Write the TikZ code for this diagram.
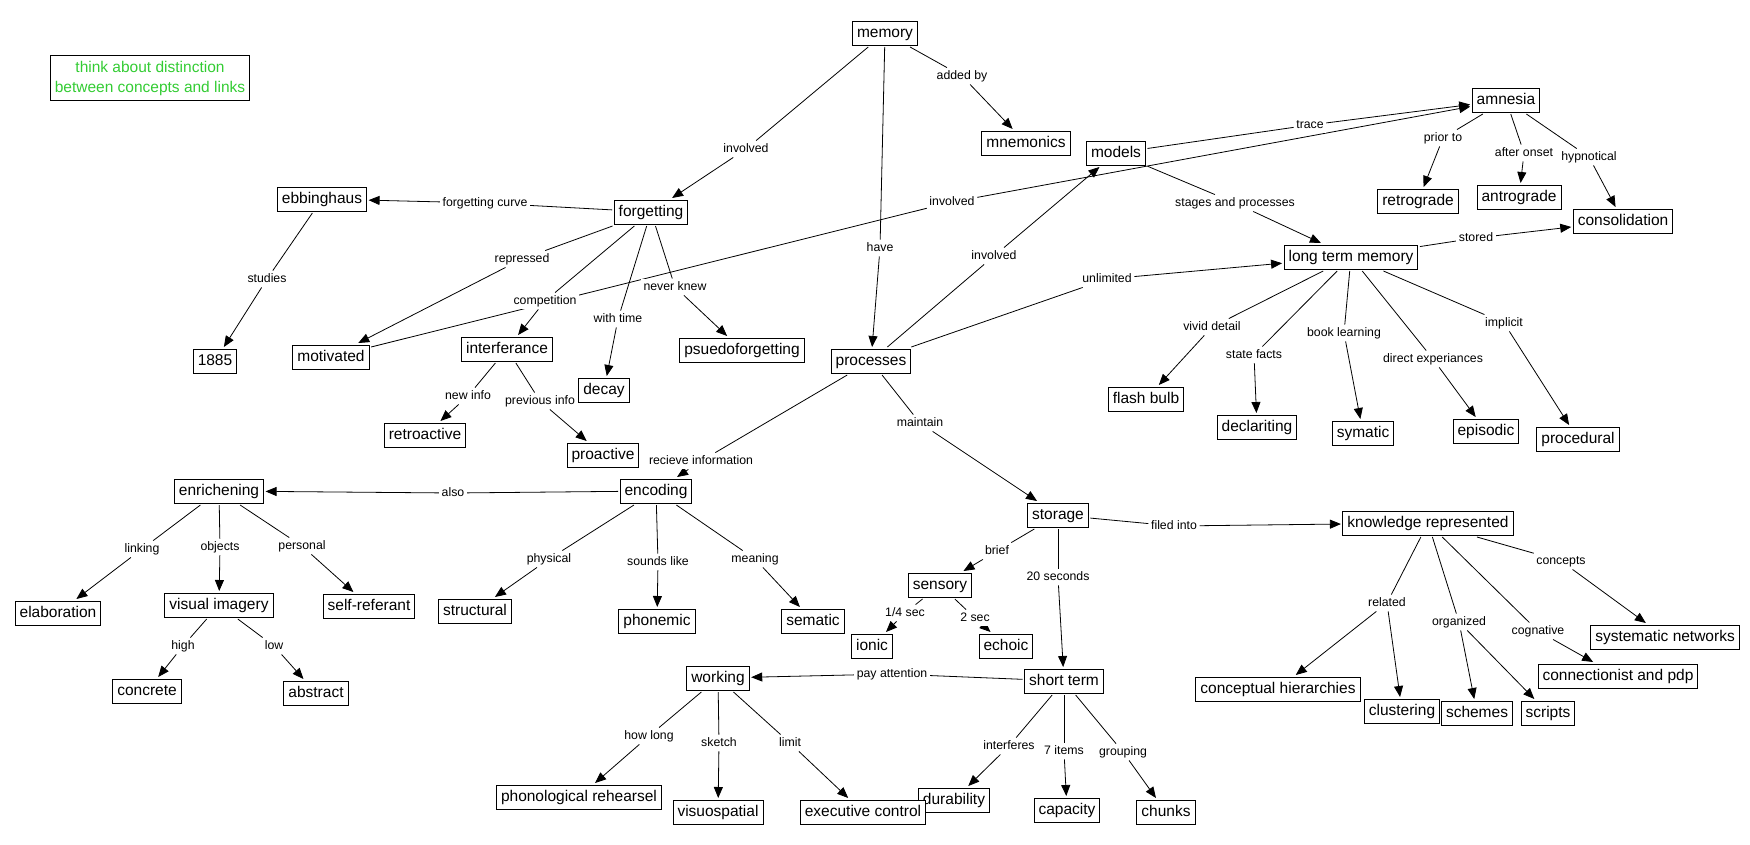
\documentclass[tikz,border=0pt]{standalone}
\usepackage{fontspec}
\setmainfont{Liberation Sans}
\usetikzlibrary{arrows.meta,backgrounds}
\definecolor{note}{HTML}{33CC33}
\tikzset{concept/.style={draw=black,fill=white,rectangle,line width=1pt,inner xsep=4.5pt,inner ysep=4.5pt,text height=11.5pt,text depth=3.5pt,outer sep=2pt,font=\fontsize{15.5}{18}\selectfont}}
\tikzset{linker/.style={fill=white,inner sep=2.5pt,text height=9pt,text depth=2.5pt,font=\fontsize{12.3}{14}\selectfont}}
\tikzset{notebox/.style={draw=black,line width=1pt,align=center,text=note,minimum width=199pt,minimum height=45pt,inner sep=2pt,font=\fontsize{15.5}{20}\selectfont}}
\tikzset{plain/.style={line width=0.8pt}}
\tikzset{arrow/.style={line width=0.8pt,-{Triangle[length=11pt,width=9pt]}}}

\begin{document}
\begin{tikzpicture}[x=1pt,y=-1pt]
        \useasboundingbox (0,0) rectangle (1750,844);
        \node[notebox] (note) at (150,78) {think about distinction\\between concepts and links};

        \node[concept] (memory) at (885,33) {memory};
        \node[concept] (mnemonics) at (1026,143) {mnemonics};
        \node[concept] (models) at (1116,153) {models};
        \node[concept] (amnesia) at (1506,100) {amnesia};
        \node[concept] (retrograde) at (1418,201) {retrograde};
        \node[concept] (antrograde) at (1519,197) {antrograde};
        \node[concept] (consolidation) at (1623,221) {consolidation};
        \node[concept] (ltm) at (1351,257) {long term memory};
        \node[concept] (ebbinghaus) at (322,199) {ebbinghaus};
        \node[concept] (forgetting) at (651,212) {forgetting};
        \node[concept] (year) at (215,361) {1885};
        \node[concept] (motivated) at (331,357) {motivated};
        \node[concept] (interferance) at (507,349) {interferance};
        \node[concept] (decay) at (604,390) {decay};
        \node[concept] (psuedo) at (742,350) {psuedoforgetting};
        \node[concept] (processes) at (871,361) {processes};
        \node[concept] (retroactive) at (425,435) {retroactive};
        \node[concept] (proactive) at (603,455) {proactive};
        \node[concept] (flashbulb) at (1146,399) {flash bulb};
        \node[concept] (declariting) at (1257,427) {declariting};
        \node[concept] (symatic) at (1363,433) {symatic};
        \node[concept] (episodic) at (1486,431) {episodic};
        \node[concept] (procedural) at (1578,439) {procedural};
        \node[concept] (enrichening) at (219,491) {enrichening};
        \node[concept] (encoding) at (656,491) {encoding};
        \node[concept] (storage) at (1058,515) {storage};
        \node[concept] (knowledge) at (1428,523) {knowledge represented};
        \node[concept] (elaboration) at (58,613) {elaboration};
        \node[concept] (visual) at (219,605) {visual imagery};
        \node[concept] (selfref) at (369,606) {self-referant};
        \node[concept] (structural) at (475,611) {structural};
        \node[concept] (phonemic) at (657,621) {phonemic};
        \node[concept] (sematic) at (813,621) {sematic};
        \node[concept] (sensory) at (940,585) {sensory};
        \node[concept] (ionic) at (872,646) {ionic};
        \node[concept] (echoic) at (1006,646) {echoic};
        \node[concept] (concrete) at (147,691) {concrete};
        \node[concept] (abstract) at (316,693) {abstract};
        \node[concept] (working) at (718,678) {working};
        \node[concept] (shortterm) at (1064,681) {short term};
        \node[concept] (phono) at (579,797) {phonological rehearsel};
        \node[concept] (visuo) at (718,812) {visuospatial};
        \node[concept] (durability) at (954,800) {durability};
        \node[concept] (executive) at (863,812) {executive control};
        \node[concept] (capacity) at (1067,810) {capacity};
        \node[concept] (chunks) at (1166,812) {chunks};
        \node[concept] (hierarchies) at (1278,689) {conceptual hierarchies};
        \node[concept] (clustering) at (1402,711) {clustering};
        \node[concept] (schemes) at (1477,713) {schemes};
        \node[concept] (scripts) at (1548,713) {scripts};
        \node[concept] (connectionist) at (1618,676) {connectionist and pdp};
        \node[concept] (systematic) at (1665,637) {systematic networks};

        \node[linker] (involvedA) at (746,149) {involved};
        \node[linker] (addedby) at (962,76) {added by};
        \node[linker] (have) at (880,248) {have};
        \node[linker] (curve) at (485,203) {forgetting curve};
        \node[linker] (studies) at (267,279) {studies};
        \node[linker] (repressed) at (522,259) {repressed};
        \node[linker] (competition) at (545,301) {competition};
        \node[linker] (withtime) at (618,319) {with time};
        \node[linker] (neverknew) at (675,287) {never knew};
        \node[linker] (involvedB) at (952,202) {involved};
        \node[linker] (newinfo) at (468,396) {new info};
        \node[linker] (previnfo) at (540,401) {previous info};
        \node[linker] (trace) at (1310,125) {trace};
        \node[linker] (stages) at (1235,203) {stages and processes};
        \node[linker] (involvedC) at (994,256) {involved};
        \node[linker] (unlimited) at (1107,279) {unlimited};
        \node[linker] (recieve) at (701,461) {recieve information};
        \node[linker] (maintain) at (920,423) {maintain};
        \node[linker] (priorto) at (1443,138) {prior to};
        \node[linker] (afteronset) at (1524,153) {after onset};
        \node[linker] (hypnotical) at (1589,157) {hypnotical};
        \node[linker] (stored) at (1476,238) {stored};
        \node[linker] (vivid) at (1212,327) {vivid detail};
        \node[linker] (statefacts) at (1254,355) {state facts};
        \node[linker] (booklearning) at (1344,333) {book learning};
        \node[linker] (direct) at (1433,359) {direct experiances};
        \node[linker] (implicit) at (1504,323) {implicit};
        \node[linker] (also) at (453,493) {also};
        \node[linker] (physical) at (549,559) {physical};
        \node[linker] (soundslike) at (658,562) {sounds like};
        \node[linker] (meaning) at (755,559) {meaning};
        \node[linker] (linking) at (142,549) {linking};
        \node[linker] (objects) at (220,547) {objects};
        \node[linker] (personal) at (302,546) {personal};
        \node[linker] (high) at (183,646) {high};
        \node[linker] (low) at (274,646) {low};
        \node[linker] (filedinto) at (1174,526) {filed into};
        \node[linker] (brief) at (997,551) {brief};
        \node[linker] (twenty) at (1058,577) {20 seconds};
        \node[linker] (quarter) at (905,613) {1/4 sec};
        \node[linker] (twosec) at (975,618) {2 sec};
        \node[linker] (payattention) at (892,674) {pay attention};
        \node[linker] (interferes) at (1009,746) {interferes};
        \node[linker] (seven) at (1064,751) {7 items};
        \node[linker] (grouping) at (1123,752) {grouping};
        \node[linker] (howlong) at (649,736) {how long};
        \node[linker] (sketch) at (719,743) {sketch};
        \node[linker] (limit) at (790,743) {limit};
        \node[linker] (related) at (1387,603) {related};
        \node[linker] (organized) at (1459,622) {organized};
        \node[linker] (cognative) at (1538,631) {cognative};
        \node[linker] (concepts) at (1561,561) {concepts};

        \begin{scope}[on background layer]
        \draw[plain] (memory) -- (involvedA);
        \draw[arrow] (involvedA) -- (forgetting);
        \draw[plain] (memory) -- (addedby);
        \draw[arrow] (addedby) -- (mnemonics);
        \draw[plain] (memory) -- (have);
        \draw[arrow] (have) -- (processes);
        \draw[plain] (forgetting) -- (curve);
        \draw[arrow] (curve) -- (ebbinghaus);
        \draw[plain] (ebbinghaus) -- (studies);
        \draw[arrow] (studies) -- (year);
        \draw[plain] (forgetting) -- (repressed);
        \draw[arrow] (repressed) -- (motivated);
        \draw[plain] (forgetting) -- (competition);
        \draw[arrow] (competition) -- (interferance);
        \draw[plain] (forgetting) -- (withtime);
        \draw[arrow] (withtime) -- (decay);
        \draw[plain] (forgetting) -- (neverknew);
        \draw[arrow] (neverknew) -- (psuedo);
        \draw[plain] (motivated) -- (involvedB);
        \draw[arrow] (involvedB) -- (amnesia);
        \draw[plain] (interferance) -- (newinfo);
        \draw[arrow] (newinfo) -- (retroactive);
        \draw[plain] (interferance) -- (previnfo);
        \draw[arrow] (previnfo) -- (proactive);
        \draw[plain] (models) -- (trace);
        \draw[arrow] (trace) -- (amnesia);
        \draw[plain] (models) -- (stages);
        \draw[arrow] (stages) -- (ltm);
        \draw[plain] (processes) -- (involvedC);
        \draw[arrow] (involvedC) -- (models);
        \draw[plain] (processes) -- (unlimited);
        \draw[arrow] (unlimited) -- (ltm);
        \draw[plain] (processes) -- (recieve);
        \draw[arrow] (recieve) -- (encoding);
        \draw[plain] (processes) -- (maintain);
        \draw[arrow] (maintain) -- (storage);
        \draw[plain] (amnesia) -- (priorto);
        \draw[arrow] (priorto) -- (retrograde);
        \draw[plain] (amnesia) -- (afteronset);
        \draw[arrow] (afteronset) -- (antrograde);
        \draw[plain] (amnesia) -- (hypnotical);
        \draw[arrow] (hypnotical) -- (consolidation);
        \draw[plain] (ltm) -- (stored);
        \draw[arrow] (stored) -- (consolidation);
        \draw[plain] (ltm) -- (vivid);
        \draw[arrow] (vivid) -- (flashbulb);
        \draw[plain] (ltm) -- (statefacts);
        \draw[arrow] (statefacts) -- (declariting);
        \draw[plain] (ltm) -- (booklearning);
        \draw[arrow] (booklearning) -- (symatic);
        \draw[plain] (ltm) -- (direct);
        \draw[arrow] (direct) -- (episodic);
        \draw[plain] (ltm) -- (implicit);
        \draw[arrow] (implicit) -- (procedural);
        \draw[plain] (encoding) -- (also);
        \draw[arrow] (also) -- (enrichening);
        \draw[plain] (encoding) -- (physical);
        \draw[arrow] (physical) -- (structural);
        \draw[plain] (encoding) -- (soundslike);
        \draw[arrow] (soundslike) -- (phonemic);
        \draw[plain] (encoding) -- (meaning);
        \draw[arrow] (meaning) -- (sematic);
        \draw[plain] (enrichening) -- (linking);
        \draw[arrow] (linking) -- (elaboration);
        \draw[plain] (enrichening) -- (objects);
        \draw[arrow] (objects) -- (visual);
        \draw[plain] (enrichening) -- (personal);
        \draw[arrow] (personal) -- (selfref);
        \draw[plain] (visual) -- (high);
        \draw[arrow] (high) -- (concrete);
        \draw[plain] (visual) -- (low);
        \draw[arrow] (low) -- (abstract);
        \draw[plain] (storage) -- (filedinto);
        \draw[arrow] (filedinto) -- (knowledge);
        \draw[plain] (storage) -- (brief);
        \draw[arrow] (brief) -- (sensory);
        \draw[plain] (storage) -- (twenty);
        \draw[arrow] (twenty) -- (shortterm);
        \draw[plain] (sensory) -- (quarter);
        \draw[arrow] (quarter) -- (ionic);
        \draw[plain] (sensory) -- (twosec);
        \draw[arrow] (twosec) -- (echoic);
        \draw[plain] (shortterm) -- (payattention);
        \draw[arrow] (payattention) -- (working);
        \draw[plain] (shortterm) -- (interferes);
        \draw[arrow] (interferes) -- (durability);
        \draw[plain] (shortterm) -- (seven);
        \draw[arrow] (seven) -- (capacity);
        \draw[plain] (shortterm) -- (grouping);
        \draw[arrow] (grouping) -- (chunks);
        \draw[plain] (working) -- (howlong);
        \draw[arrow] (howlong) -- (phono);
        \draw[plain] (working) -- (sketch);
        \draw[arrow] (sketch) -- (visuo);
        \draw[plain] (working) -- (limit);
        \draw[arrow] (limit) -- (executive);
        \draw[plain] (knowledge) -- (related);
        \draw[arrow] (related) -- (hierarchies);
        \draw[arrow] (related) -- (clustering);
        \draw[plain] (knowledge) -- (organized);
        \draw[arrow] (organized) -- (schemes);
        \draw[arrow] (organized) -- (scripts);
        \draw[plain] (knowledge) -- (cognative);
        \draw[arrow] (cognative) -- (connectionist);
        \draw[plain] (knowledge) -- (concepts);
        \draw[arrow] (concepts) -- (systematic);
        \end{scope}

\end{tikzpicture}
\end{document}
